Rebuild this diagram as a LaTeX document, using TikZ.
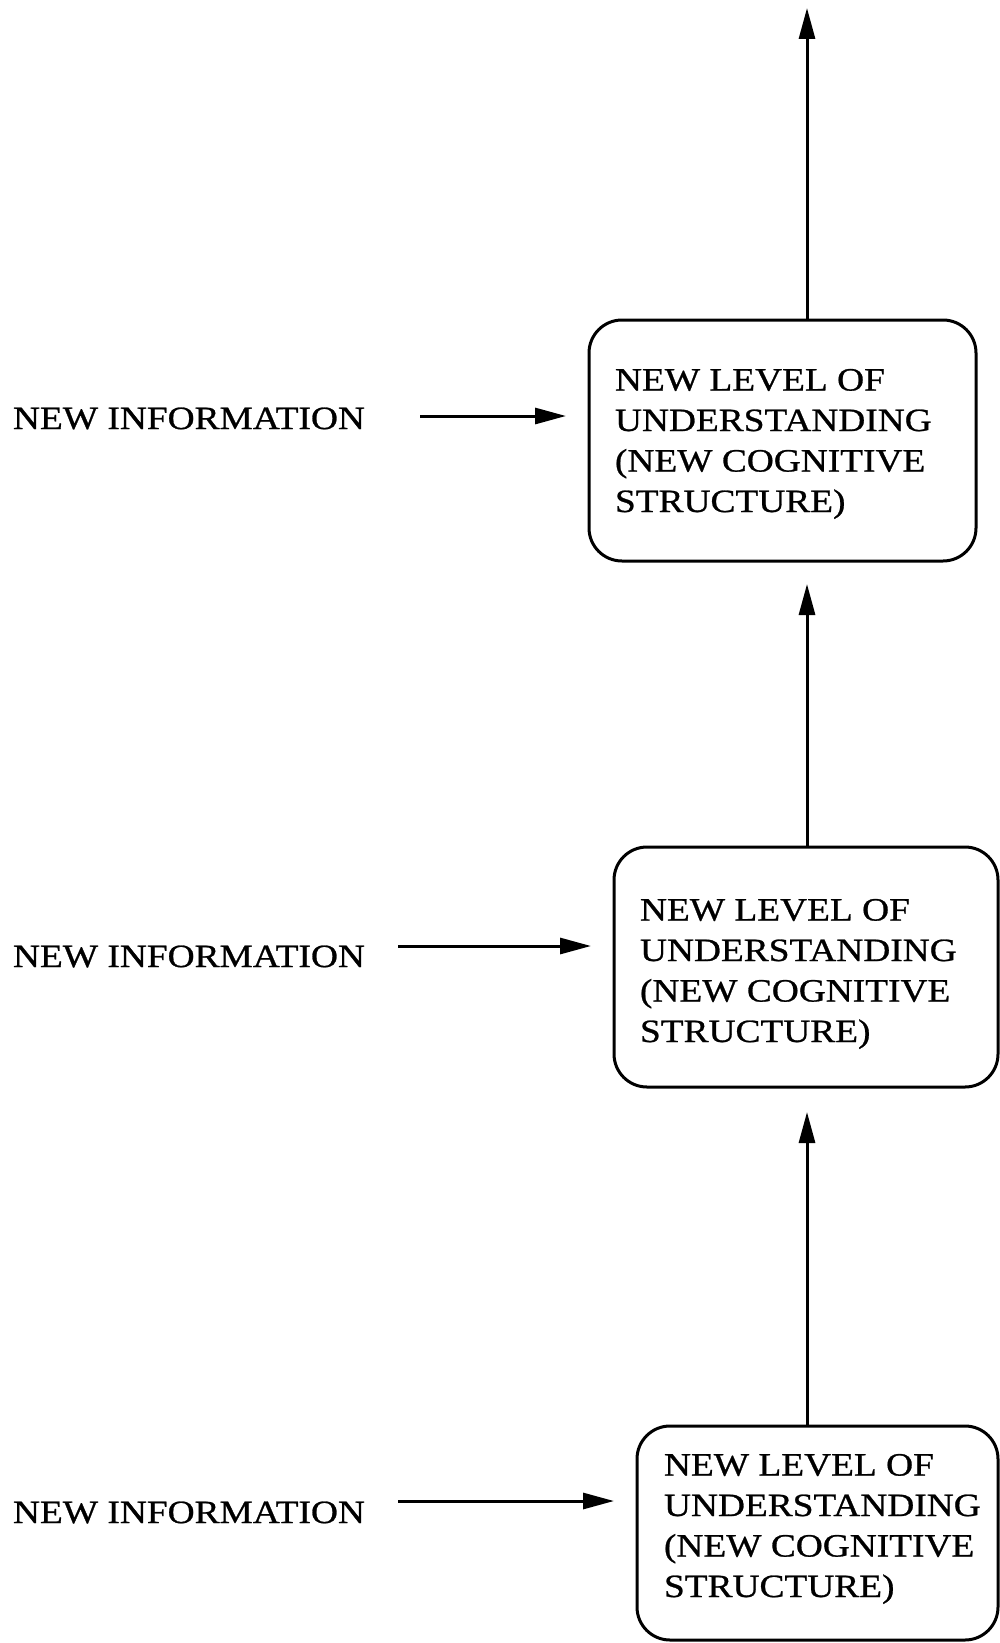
\documentclass[tikz,border=0pt]{standalone}
\usepackage{fontspec}
\setmainfont{Liberation Serif}[FakeStretch=1.15,FakeBold=0.8]
\usetikzlibrary{arrows.meta}
\tikzset{
  box/.style={draw, line width=3pt, rounded corners=33pt, rectangle, inner sep=0pt, outer sep=0pt},
  boxtext/.style={align=left, inner sep=0pt, outer sep=0pt, anchor=base west, font=\fontsize{32.5}{40.5}\selectfont},
  infotext/.style={inner sep=0pt, outer sep=0pt, anchor=base west, font=\fontsize{32.5}{40.5}\selectfont},
  arr/.style={line width=3pt, -{Triangle[length=31pt,width=16pt]}}
}
\begin{document}
\begin{tikzpicture}[x=1pt,y=-1pt]
\useasboundingbox[fill=white] (0,0) rectangle (999,1643);
% boxes
\node[box, minimum width=387pt, minimum height=241pt, anchor=north west] (b1) at (589,320) {};
\node[box, minimum width=384pt, minimum height=240pt, anchor=north west] (b2) at (614,847) {};
\node[box, minimum width=361pt, minimum height=214pt, anchor=north west] (b3) at (637,1426) {};
% box texts (anchored at the baseline of the last line)
\node[boxtext] (t1) at (615,512) {NEW LEVEL OF\\UNDERSTANDING\\(NEW COGNITIVE\\STRUCTURE)};
\node[boxtext] (t2) at (640,1042) {NEW LEVEL OF\\UNDERSTANDING\\(NEW COGNITIVE\\STRUCTURE)};
\node[boxtext] (t3) at (664,1597) {NEW LEVEL OF\\UNDERSTANDING\\(NEW COGNITIVE\\STRUCTURE)};
% info texts
\node[infotext] (i1) at (13,429) {NEW INFORMATION};
\node[infotext] (i2) at (13,967) {NEW INFORMATION};
\node[infotext] (i3) at (13,1523) {NEW INFORMATION};
% arrow coordinates
\coordinate (h1s) at (420,416);
\coordinate (h2s) at (398,946);
\coordinate (h3s) at (398,1501);
\coordinate (vtop) at (807,8);
% horizontal arrows
\draw[arr, shorten >=23pt] (h1s) -- (h1s -| b1.west);
\draw[arr, shorten >=23pt] (h2s) -- (h2s -| b2.west);
\draw[arr, shorten >=23pt] (h3s) -- (h3s -| b3.west);
% vertical arrows
\draw[arr] (b1.north -| vtop) -- (vtop);
\draw[arr, shorten >=23pt] (b2.north -| vtop) -- (b1.south -| vtop);
\draw[arr, shorten >=25pt] (b3.north -| vtop) -- (b2.south -| vtop);
\end{tikzpicture}
\end{document}
